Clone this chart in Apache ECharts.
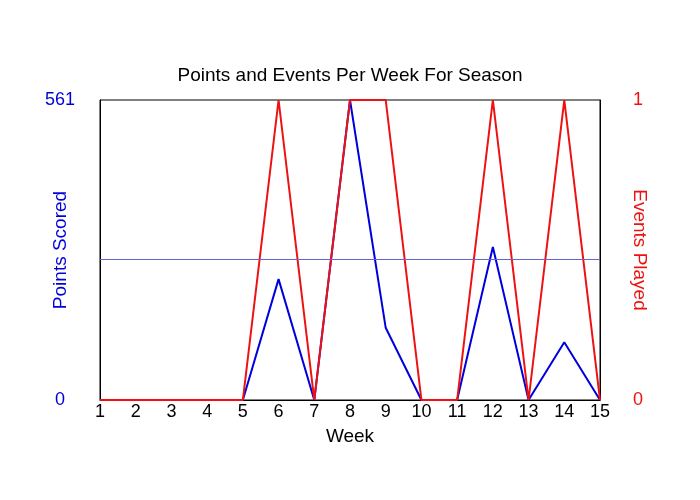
<!DOCTYPE html>
<html>
<head>
<meta charset="utf-8">
<script src="https://cdn.jsdelivr.net/npm/echarts@6/dist/echarts.min.js"></script>
<style>
    html,body{margin:0;padding:0;background:#fff;}
    #chart{width:700px;height:500px;}
</style>
</head>
<body>
<div id="chart"></div>
<script>
//周次
var weeks=['1','2','3','4','5','6','7','8','9','10','11','12','13','14','15'];
//每周得分
var points=[0,0,0,0,0,226,0,561,135,0,0,286,0,108,0];
//每周参赛场次
var events=[0,0,0,0,0,1,0,1,1,0,0,1,0,1,0];
//平均线(图上读出)
var pointsAvg=[264];

var blue='#0000dd',
    red='#ee1111';

var chart=echarts.init(document.getElementById('chart'));

var option={
    backgroundColor:'#fff',
    animation:false,
    title:{
        text:'Points and Events Per Week For Season',
        left:'center',
        top:61,
        textStyle:{
            fontFamily:'Liberation Sans',
            fontSize:19,
            fontWeight:'normal',
            color:'#000'
        }
    },
    grid:{
        left:100,
        right:100,
        top:100,
        bottom:100,
        show:true,
        borderColor:'#000',
        borderWidth:1
    },
    xAxis:{
        type:'category',
        data:weeks,
        boundaryGap:false,
        name:'Week',
        nameLocation:'middle',
        nameGap:27,
        nameTextStyle:{fontFamily:'Liberation Sans',fontSize:19,color:'#000'},
        axisLine:{lineStyle:{color:'#000'}},
        axisTick:{show:false},
        splitLine:{show:false},
        axisLabel:{
            fontFamily:'Liberation Sans',
            fontSize:18,
            color:'#000',
            margin:3,
            interval:0
        }
    },
    yAxis:[
        {
            type:'value',
            min:0,
            max:561,
            interval:561,
            name:'Points Scored',
            nameLocation:'middle',
            nameGap:30,
            nameRotate:90,
            nameMoveOverlap:false,
            nameTextStyle:{fontFamily:'Liberation Sans',fontSize:19,color:blue},
            axisLine:{show:true,lineStyle:{color:'#000'}},
            axisTick:{show:false},
            splitLine:{show:false},
            axisLabel:{
                fontFamily:'Liberation Sans',
                fontSize:18,
                color:blue,
                align:'center',
                margin:40
            }
        },
        {
            type:'value',
            min:0,
            max:1,
            interval:1,
            position:'right',
            name:'Events Played',
            nameLocation:'middle',
            nameGap:30,
            nameRotate:-90,
            nameMoveOverlap:false,
            nameTextStyle:{fontFamily:'Liberation Sans',fontSize:19,color:red},
            axisLine:{show:true,lineStyle:{color:'#000'}},
            axisTick:{show:false},
            splitLine:{show:false},
            axisLabel:{
                fontFamily:'Liberation Sans',
                fontSize:18,
                color:red,
                align:'center',
                margin:38
            }
        }
    ],
    series:[
        {
            name:'Points Scored',
            type:'line',
            yAxisIndex:0,
            data:points,
            symbol:'none',
            lineStyle:{color:blue,width:2},
            markLine:{
                silent:true,
                symbol:'none',
                label:{show:false},
                lineStyle:{color:'#6464d2',width:1,type:'solid',opacity:1},
                data:[{yAxis:pointsAvg[0]}]
            },
            z:2
        },
        {
            name:'Events Played',
            type:'line',
            yAxisIndex:1,
            data:events,
            symbol:'none',
            lineStyle:{color:red,width:2},
            z:3
        }
    ]
};
chart.setOption(option);
</script>
</body>
</html>
